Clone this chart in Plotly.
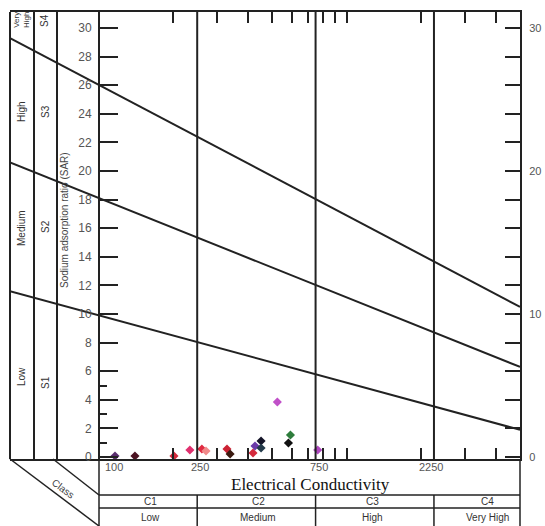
import math
import plotly.graph_objects as go

# ---- water samples: electrical conductivity (uS/cm) and sodium adsorption ratio
SAMPLE_EC = [116.6, 140.3, 201.5, 233.6, 261.1, 271.3, 329.6, 339.3,
             419.7, 427.5, 452.2, 452.2, 526.0, 594.0, 583.0, 765.0]
SAMPLE_SAR = [0.07, 0.07, 0.07, 0.49, 0.56, 0.42, 0.56, 0.21,
              0.28, 0.77, 1.12, 0.63, 3.85, 1.54, 0.98, 0.49]
SAMPLE_COLORS = ["#5a2d6e", "#4b1322", "#d42a3c", "#e0306e", "#e02a40", "#f08a8a",
                 "#cc2233", "#3a1a10", "#d42a3c", "#6a3aa8", "#141428", "#233a4a",
                 "#c050c8", "#2e7d3c", "#111111", "#b048c0"]

# ---- sodium hazard class boundaries (SAR at the two EC ends)
BOUNDARY_EC = [44, 5000]
S1_S2 = [11.6, 1.9]
S2_S3 = [20.6, 6.3]
S3_S4 = [29.3, 10.5]

# ---- salinity class limits and axis ticks
EC_CLASS_LIMITS = [250, 750, 2250]
EC_LABELS = [100, 250, 750, 2250]
EC_TICKS = [200, 300, 400, 500, 600, 700, 800, 900, 1000, 2000, 3000, 4000]
SAR_TICKS = list(range(0, 31, 2))
SAR_RIGHT_LABELS = [0, 10, 20, 30]
SALINITY_CLASSES = ["C1", "C2", "C3", "C4"]
SALINITY_NAMES = ["Low", "Medium", "High", "Very High"]
SODIUM_CLASSES = ["S1", "S2", "S3", "S4"]
SODIUM_NAMES = ["Low", "Medium", "High", "Very<br>High"]

W, H = 545, 526
ML, MR, MT, MB = 10, 25, 12, 67
PW, PH = W - ML - MR, H - MT - MB
X_RANGE = [math.log10(44), math.log10(5000)]
Y_RANGE = [-0.14, 31.12]
LINE = "#222222"
TXT = "#555555"
SANS = "Liberation Sans, Arial"


def px(xp):
    return (xp - ML) / PW


def py(yp):
    return (MT + PH - yp) / PH


def ec_paper(v):
    return (math.log10(v) - X_RANGE[0]) / (X_RANGE[1] - X_RANGE[0])


def label(x, y, text, size=10, color="#333333", angle=0, family=SANS, xref="paper", xshift=0):
    return dict(x=x, y=y, xref=xref, yref="paper", text=text, showarrow=False,
                xanchor="center", yanchor="middle", textangle=angle, xshift=xshift,
                font=dict(family=family, size=size, color=color))


fig = go.Figure()

for sar in (S1_S2, S2_S3, S3_S4):
    fig.add_trace(go.Scatter(x=BOUNDARY_EC, y=sar, mode="lines",
                             line=dict(color=LINE, width=2), hoverinfo="skip"))

fig.add_trace(go.Scatter(x=SAMPLE_EC, y=SAMPLE_SAR, mode="markers",
                         marker=dict(symbol="diamond", size=7, color=SAMPLE_COLORS,
                                     line=dict(width=0)),
                         cliponaxis=False))

# keeps the right-hand SAR axis alive
fig.add_trace(go.Scatter(x=SAMPLE_EC[:1], y=SAMPLE_SAR[:1], yaxis="y2", mode="markers",
                         marker=dict(opacity=0), hoverinfo="skip"))

shapes = []
# salinity class limits
for v in EC_CLASS_LIMITS:
    shapes.append(dict(type="line", xref="x", yref="paper", x0=v, x1=v, y0=0, y1=1,
                       line=dict(color=LINE, width=2)))
# left label panel columns
for xp in (10, 34, 57):
    shapes.append(dict(type="line", xref="paper", yref="paper", x0=px(xp), x1=px(xp),
                       y0=0, y1=1, line=dict(color=LINE, width=2)))
# bottom class table
yb = py(H)
shapes += [
    dict(type="line", xref="paper", yref="paper", x0=px(99), x1=px(99), y0=0, y1=yb),
    dict(type="line", xref="paper", yref="paper", x0=1, x1=1, y0=0, y1=yb),
    dict(type="line", xref="paper", yref="paper", x0=px(99), x1=1, y0=py(495), y1=py(495)),
    dict(type="line", xref="paper", yref="paper", x0=px(99), x1=1, y0=py(508), y1=py(508)),
    dict(type="line", xref="paper", yref="paper", x0=0, x1=px(99), y0=0, y1=yb),
    dict(type="line", xref="paper", yref="paper", x0=px(53), x1=px(99), y0=0, y1=py(495)),
]
for v in EC_CLASS_LIMITS:
    shapes.append(dict(type="line", xref="paper", yref="paper", x0=ec_paper(v), x1=ec_paper(v),
                       y0=py(495), y1=yb))
for s in shapes:
    s.setdefault("line", dict(color=LINE, width=1.5))

ann = []
# EC labels under the axis
for v in EC_LABELS:
    shift = 16 if v == 100 else (3 if v < 2000 else -3)
    ann.append(label(math.log10(v), py(467), str(v), size=11, color=TXT, xref="x", xshift=shift))
ann.append(label(px(310), py(484), "Electrical Conductivity", size=17, color="#111111",
                 family="Liberation Serif, Times New Roman"))
col_x = [150, 258, 372, 487]
for cx, c, n in zip(col_x, SALINITY_CLASSES, SALINITY_NAMES):
    ann.append(label(px(cx), py(501), c))
    ann.append(label(px(cx), py(517), n))
ann.append(label(px(63), py(488), "Class", size=10, color="#444444", angle=37))
# sodium hazard labels in the left panel
row_y = [377, 228, 112, 20]
s_y = [383, 227, 112, 21]
for ry, sy, s, n in zip(row_y, s_y, SODIUM_CLASSES, SODIUM_NAMES):
    ann.append(label(px(21), py(ry), n, size=8 if "Very" in n else 10, angle=-90))
    ann.append(label(px(45), py(sy), s, size=10, angle=-90))
ann.append(label(px(64), py(220), "Sodium adsorption ratio (SAR)", size=10,
                 color="#444444", angle=-90))

fig.update_layout(
    width=W, height=H, margin=dict(l=ML, r=MR, t=MT, b=MB, autoexpand=False),
    paper_bgcolor="white", plot_bgcolor="white", showlegend=False,
    xaxis=dict(type="log", range=X_RANGE, showgrid=False, zeroline=False, automargin=False,
               showline=True, linecolor=LINE, linewidth=2, mirror="ticks",
               tickmode="array", tickvals=EC_TICKS, ticks="inside", ticklen=11,
               tickwidth=2, tickcolor=LINE, showticklabels=False),
    yaxis=dict(range=Y_RANGE, anchor="free", position=px(99), side="left", automargin=False,
               showgrid=False, zeroline=False, showline=True, linecolor=LINE, linewidth=2,
               tickmode="array", tickvals=SAR_TICKS, ticks="inside", ticklen=18,
               tickwidth=2, tickcolor=LINE, ticklabelstandoff=4,
               tickfont=dict(family=SANS, size=12, color=TXT),
               minor=dict(tickvals=[1, 3, 5], ticklen=7, tickwidth=1.5, tickcolor=LINE,
                          ticks="inside")),
    yaxis2=dict(range=Y_RANGE, overlaying="y", side="right", anchor="x", automargin=False,
                showgrid=False, zeroline=False, showline=True, linecolor=LINE, linewidth=2,
                tickmode="array", tickvals=SAR_TICKS,
                ticktext=[str(t) if t in SAR_RIGHT_LABELS else "" for t in SAR_TICKS],
                ticks="inside", ticklen=15, tickwidth=2, tickcolor=LINE,
                ticklabelstandoff=5,
                tickfont=dict(family=SANS, size=11, color=TXT)),
    shapes=shapes, annotations=ann,
)

fig.write_html("out.html")
